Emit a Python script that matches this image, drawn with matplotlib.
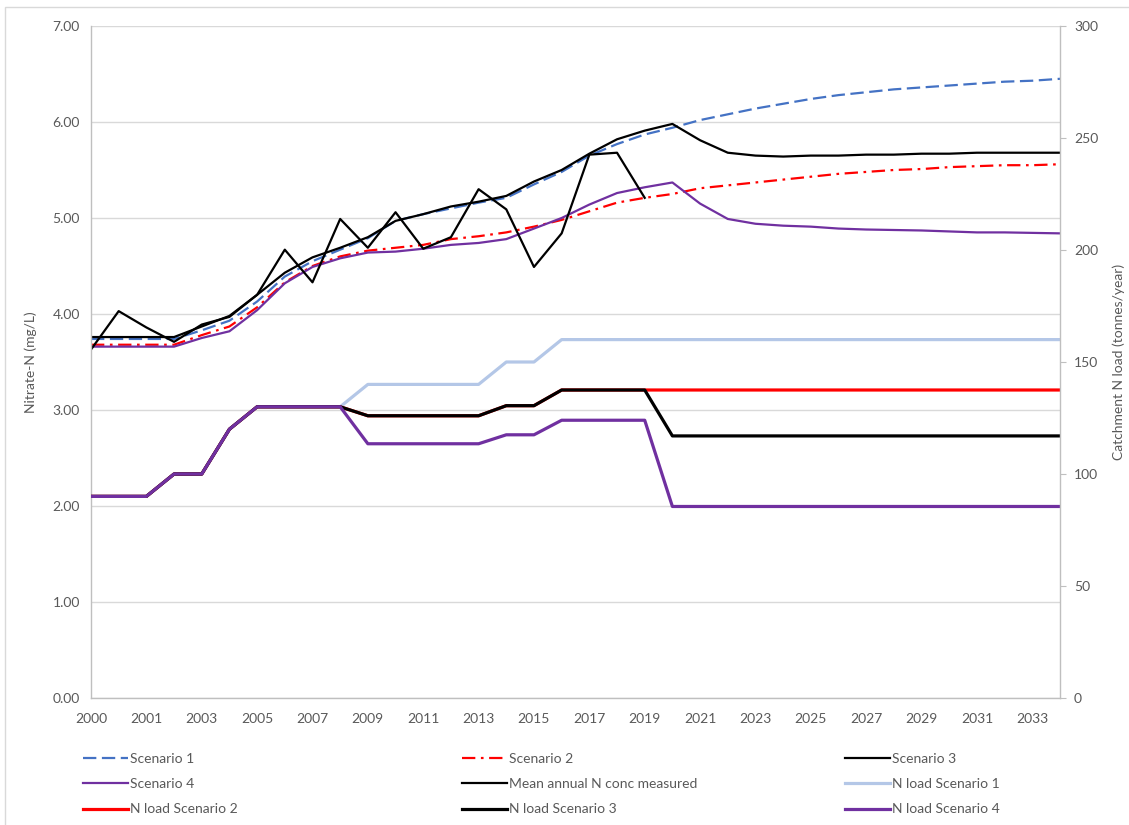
import matplotlib.pyplot as plt
import matplotlib.patches as mpatches
import numpy as np

plt.rcParams.update({
    "font.family": ["Lato", "DejaVu Sans"],
    "font.size": 10,
})

# category axis: Excel sheet has 2000 twice, then one column per year
YEARS = ["2000", "2000"] + [str(y) for y in range(2001, 2035)]

SCEN1 = [3.74, 3.74, 3.74, 3.74, 3.83, 3.93, 4.13, 4.39, 4.55, 4.67, 4.79, 4.97,
         5.04, 5.10, 5.16, 5.21, 5.35, 5.48, 5.65, 5.77, 5.87, 5.94, 6.02, 6.08,
         6.14, 6.19, 6.24, 6.28, 6.31, 6.34, 6.36, 6.38, 6.40, 6.42, 6.43, 6.45]
SCEN2 = [3.68, 3.68, 3.68, 3.68, 3.78, 3.87, 4.07, 4.33, 4.50, 4.60, 4.66, 4.69,
         4.72, 4.78, 4.81, 4.85, 4.91, 4.98, 5.07, 5.16, 5.21, 5.25, 5.31, 5.34,
         5.37, 5.40, 5.43, 5.46, 5.48, 5.50, 5.51, 5.53, 5.54, 5.55, 5.55, 5.56]
SCEN3 = [3.76, 3.76, 3.76, 3.76, 3.87, 3.98, 4.20, 4.43, 4.59, 4.69, 4.80, 4.97,
         5.04, 5.12, 5.17, 5.23, 5.38, 5.50, 5.67, 5.82, 5.91, 5.98, 5.81, 5.68,
         5.65, 5.64, 5.65, 5.65, 5.66, 5.66, 5.67, 5.67, 5.68, 5.68, 5.68, 5.68]
SCEN4 = [3.66, 3.66, 3.66, 3.66, 3.75, 3.82, 4.04, 4.32, 4.49, 4.58, 4.64, 4.65,
         4.68, 4.72, 4.74, 4.78, 4.89, 5.00, 5.14, 5.26, 5.32, 5.37, 5.15, 4.99,
         4.94, 4.92, 4.91, 4.89, 4.88, 4.875, 4.87, 4.86, 4.85, 4.85, 4.845, 4.84]
MEASURED = [3.63, 4.03, 3.86, 3.71, 3.89, 3.97, 4.20, 4.67, 4.33, 4.99, 4.69,
            5.06, 4.68, 4.80, 5.30, 5.09, 4.49, 4.84, 5.66, 5.68, 5.21]

LOAD1 = [90, 90, 90, 100, 100, 120, 130, 130, 130, 130] + [140] * 5 + [150] * 2 + [160] * 19
LOAD2 = [90, 90, 90, 100, 100, 120, 130, 130, 130, 130] + [126] * 5 + [130.5] * 2 + [137.5] * 19
LOAD3 = [90, 90, 90, 100, 100, 120, 130, 130, 130, 130] + [126] * 5 + [130.5] * 2 + [137.5] * 4 + [117] * 15
LOAD4 = [90, 90, 90, 100, 100, 120, 130, 130, 130, 130] + [113.5] * 5 + [117.5] * 2 + [124] * 4 + [85.5] * 15

BLUE = "#4472C4"
RED = "#FF0000"
PURPLE = "#7030A0"
LIGHT_BLUE = "#B4C7E7"
GREY_TXT = "#595959"
GRID = "#D9D9D9"


def main():
    fig = plt.figure(figsize=(11.29, 8.25), dpi=100)
    ax = fig.add_axes([91 / 1129, 1 - 698 / 825, (1060 - 91) / 1129, (698 - 26) / 825])
    ax2 = ax.twinx()

    x = np.arange(len(YEARS))
    xm = np.arange(len(MEASURED))

    l1, = ax.plot(x, SCEN1, color=BLUE, lw=1.6, dashes=(6, 2.5), label="Scenario 1")
    l2, = ax.plot(x, SCEN2, color=RED, lw=1.6, dashes=(6, 2.5, 1.2, 2.5), label="Scenario 2")
    l3, = ax.plot(x, SCEN3, color="black", lw=1.6, label="Scenario 3")
    l4, = ax.plot(x, SCEN4, color=PURPLE, lw=1.6, label="Scenario 4")
    lm, = ax.plot(xm, MEASURED, color="black", lw=1.6, label="Mean annual N conc measured")

    # loads on secondary axis (sits above the gridlines of the primary axis)
    n1, = ax2.plot(x, LOAD1, color=LIGHT_BLUE, lw=2.3, label="N load Scenario 1")
    n2, = ax2.plot(x, LOAD2, color=RED, lw=2.3, label="N load Scenario 2")
    n3, = ax2.plot(x, LOAD3, color="black", lw=2.3, label="N load Scenario 3")
    n4, = ax2.plot(x, LOAD4, color=PURPLE, lw=2.3, label="N load Scenario 4")

    ax.set_xlim(0, len(YEARS) - 1)
    ax.set_ylim(0, 7)
    ax2.set_ylim(0, 300)
    ax.set_yticks(np.arange(0, 7.01, 1))
    ax.set_yticklabels([f"{v:.2f}" for v in np.arange(0, 7.01, 1)])
    ax2.set_yticks(np.arange(0, 301, 50))
    ax.set_xticks(x[::2])
    ax.set_xticklabels(YEARS[::2])

    ax.grid(axis="y", color=GRID, lw=1)
    ax.set_axisbelow(True)
    for a in (ax, ax2):
        for s in a.spines.values():
            s.set_visible(False)
        a.tick_params(colors=GREY_TXT, labelsize=10)
    ax.spines["left"].set_visible(True)
    ax.spines["bottom"].set_visible(True)
    ax2.spines["right"].set_visible(True)
    for s in (ax.spines["left"], ax.spines["bottom"], ax2.spines["right"]):
        s.set_color("#BFBFBF")
        s.set_linewidth(1)
    ax.tick_params(axis="both", length=0, pad=8)
    ax.tick_params(axis="x", pad=11)
    ax2.tick_params(axis="y", length=4, color="#BFBFBF", pad=6)

    ax.set_ylabel("Nitrate-N (mg/L)", color=GREY_TXT, fontsize=10)
    ax.yaxis.set_label_coords(-0.056, 0.5)
    ax2.set_ylabel("Catchment N load (tonnes/year)", color=GREY_TXT, fontsize=10)
    ax2.yaxis.set_label_coords(1.054, 0.5)

    # legend: three one-column blocks to mimic Excel's row-major layout
    cols = [
        [l1, l4, n2],
        [l2, lm, n3],
        [l3, n1, n4],
    ]
    col_x = [83 / 1129, 462 / 1129, 845 / 1129]
    for handles, cx in zip(cols, col_x):
        leg = fig.legend(handles=handles, loc="upper left",
                         bbox_to_anchor=(cx, 1 - 753 / 825), frameon=False,
                         handlelength=3.25, handletextpad=0.15, labelspacing=0.95,
                         borderaxespad=0, borderpad=0, fontsize=10)
        for t in leg.get_texts():
            t.set_color(GREY_TXT)

    # chart-area border
    fig.patches.append(mpatches.Rectangle((5 / 1129, -0.05), 1.1, 1 - 7 / 825 + 0.05,
                                          transform=fig.transFigure, fill=False,
                                          edgecolor=GRID, lw=1))

    fig.savefig("out.png", dpi=100)
    plt.close(fig)


if __name__ == "__main__":
    main()
